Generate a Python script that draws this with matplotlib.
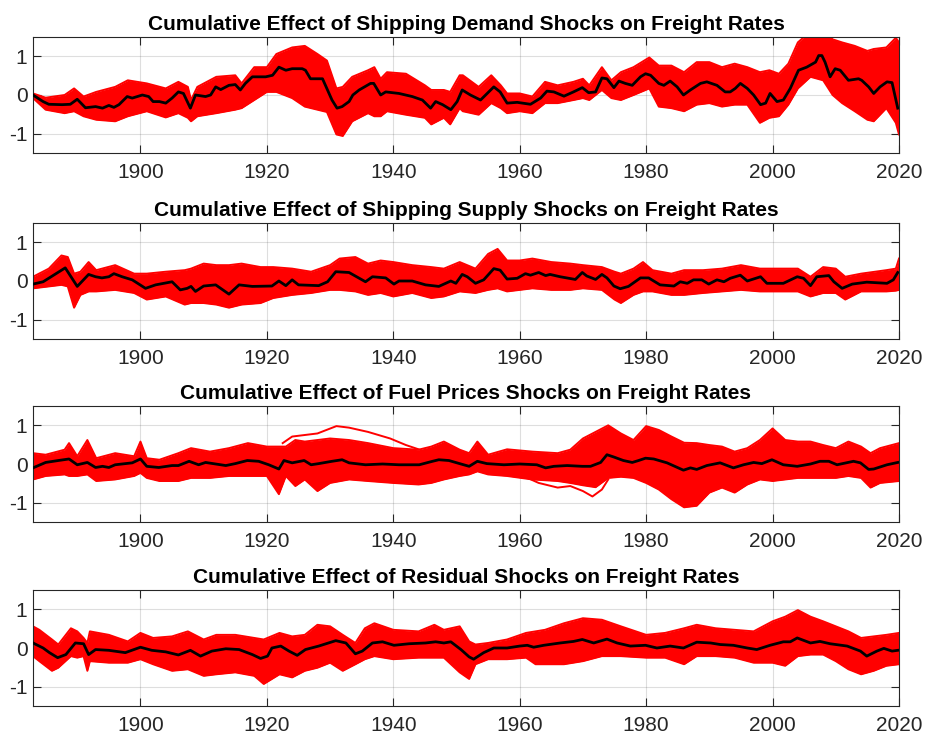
import matplotlib
matplotlib.use("Agg")
import matplotlib.pyplot as plt

plt.rcParams['font.family'] = ['Liberation Sans', 'DejaVu Sans']

titles = [
    "Cumulative Effect of Shipping Demand Shocks on Freight Rates",
    "Cumulative Effect of Shipping Supply Shocks on Freight Rates",
    "Cumulative Effect of Fuel Prices Shocks on Freight Rates",
    "Cumulative Effect of Residual Shocks on Freight Rates",
]
x_ticks = [1900, 1920, 1940, 1960, 1980, 2000, 2020]
y_ticks = [-1, 0, 1]

# ---------------- Panel 1: demand ----------------
demand_med_years = [1883, 1884.6, 1885.5, 1887.6, 1888.9, 1890, 1891.3, 1892.9, 1894, 1895, 1895.8, 1896.6,
                    1897.9, 1898.7, 1900.3, 1901.3, 1902, 1903, 1904, 1905, 1906, 1906.8, 1907.9, 1908.7,
                    1910.3, 1911.1, 1911.9, 1912.7, 1914, 1915, 1915.8, 1916.6, 1917.7, 1919.8, 1920.9,
                    1921.9, 1923, 1924, 1925.6, 1926.1, 1926.9, 1928.8, 1930.3, 1931.1, 1931.9, 1933,
                    1933.6, 1934.6, 1936.4, 1936.9, 1938, 1938.8, 1940.9, 1943, 1944.6, 1945.9, 1946.7,
                    1947.8, 1949.1, 1950.1, 1950.9, 1952.2, 1953.8, 1955.9, 1956.9, 1958, 1959.6, 1961.7,
                    1963.3, 1964.3, 1965.4, 1967, 1968.5, 1969.9, 1970.9, 1972, 1973, 1973.8, 1974.9,
                    1975.7, 1976.7, 1977.8, 1979.1, 1979.9, 1980.7, 1982, 1982.8, 1983.8, 1984.9, 1985.9,
                    1987, 1988.6, 1989.6, 1991.2, 1992.5, 1993.3, 1994.1, 1994.9, 1996, 1997, 1998.1,
                    1998.9, 1999.6, 2000.7, 2001.7, 2002.8, 2004.1, 2005.4, 2006.8, 2007.3, 2007.8, 2008.3,
                    2009.1, 2009.9, 2010.7, 2012, 2013.6, 2014.1, 2015.2, 2016, 2017, 2018.1, 2018.9, 2019.8]
demand_median = [0.00, -0.17, -0.24, -0.25, -0.24, -0.11, -0.33, -0.30, -0.34, -0.27, -0.32, -0.25,
                 -0.04, -0.08, 0.00, -0.04, -0.17, -0.17, -0.21, -0.08, 0.08, 0.04, -0.34, 0.00,
                 -0.04, 0.00, 0.21, 0.14, 0.25, 0.27, 0.13, 0.30, 0.47, 0.47, 0.51,
                 0.72, 0.64, 0.68, 0.68, 0.64, 0.42, 0.42, -0.13, -0.34, -0.30, -0.17,
                 0.00, 0.13, 0.30, 0.30, 0.00, 0.08, 0.04, -0.04, -0.13, -0.34, -0.17,
                 -0.25, -0.38, -0.17, 0.13, 0.00, -0.13, 0.21, 0.08, -0.21, -0.19, -0.24,
                 -0.08, 0.10, 0.08, -0.03, 0.08, 0.19, 0.06, 0.08, 0.44, 0.42, 0.19,
                 0.36, 0.30, 0.25, 0.47, 0.55, 0.51, 0.30, 0.25, 0.36, 0.21, 0.00,
                 0.13, 0.30, 0.34, 0.25, 0.08, 0.08, 0.17, 0.30, 0.17, 0.00, -0.25,
                 -0.21, 0.04, -0.17, -0.13, 0.17, 0.64, 0.72, 0.85, 1.02, 1.02, 0.85,
                 0.47, 0.68, 0.64, 0.38, 0.42, 0.38, 0.21, 0.04, 0.21, 0.34, 0.32, -0.34]
demand_band_years = [1883, 1885, 1888, 1889.5, 1891, 1893, 1896, 1898, 1901, 1904, 1906, 1907.5, 1908,
                     1909, 1912, 1915, 1916, 1918, 1920, 1921.5, 1924, 1926, 1928, 1929.5, 1931, 1932,
                     1933.5, 1936, 1937, 1938, 1939, 1942, 1945, 1946, 1948, 1949, 1950.5, 1951, 1953.5,
                     1955.5, 1957, 1958, 1960, 1962, 1964, 1966, 1968.5, 1970, 1971, 1973, 1974.5, 1976,
                     1978, 1980.5, 1982, 1984, 1986, 1988, 1990, 1992, 1994, 1996, 1998, 1999.5, 2001,
                     2002.5, 2004, 2006, 2008, 2009.5, 2011, 2013, 2015, 2016, 2018, 2019.5, 2020]
demand_upper = [0.04, -0.07, 0.00, 0.17, -0.04, 0.08, 0.21, 0.38, 0.30, 0.17, 0.34, 0.21, -0.13,
                0.21, 0.47, 0.51, 0.30, 0.72, 0.72, 1.06, 1.23, 1.27, 1.06, 0.89, 0.17, 0.21,
                0.47, 0.64, 0.72, 0.42, 0.59, 0.55, 0.25, 0.13, 0.13, 0.08, 0.51, 0.51, 0.21,
                0.51, 0.25, 0.04, 0.04, -0.04, 0.34, 0.25, 0.34, 0.42, 0.25, 0.72, 0.38, 0.59,
                0.72, 0.97, 0.76, 0.76, 0.59, 0.85, 0.85, 0.72, 0.81, 0.72, 0.59, 0.64, 0.55,
                0.81, 1.36, 1.65, 1.70, 1.44, 1.36, 1.27, 1.14, 1.19, 1.23, 1.48, 1.36]
demand_lower = [-0.08, -0.38, -0.47, -0.42, -0.55, -0.64, -0.68, -0.55, -0.42, -0.58, -0.47, -0.59, -0.68,
                -0.55, -0.47, -0.38, -0.34, -0.13, 0.08, 0.08, -0.08, -0.30, -0.38, -0.44, -1.02, -1.06,
                -0.68, -0.47, -0.55, -0.55, -0.42, -0.51, -0.59, -0.76, -0.59, -0.76, -0.34, -0.42, -0.51,
                -0.21, -0.34, -0.47, -0.42, -0.47, -0.21, -0.21, -0.13, -0.08, -0.13, 0.13, -0.08, -0.13,
                0.00, 0.17, -0.30, -0.34, -0.42, -0.25, -0.21, -0.30, -0.25, -0.25, -0.72, -0.59, -0.55,
                -0.25, 0.17, 0.47, 0.38, 0.00, -0.21, -0.42, -0.64, -0.68, -0.34, -0.72, -1.02]

# ---------------- Panel 2: supply ----------------
supply_med_years = [1883, 1884.6, 1888.1, 1890, 1891.8, 1892.9, 1893.9, 1895, 1895.8, 1897.1, 1898.7,
                    1900.8, 1902.4, 1905, 1906.3, 1907.4, 1908, 1908.7, 1910, 1911.9, 1914, 1915.6,
                    1917.7, 1920.8, 1921.9, 1923, 1924, 1925, 1928.2, 1929.6, 1930.9, 1933, 1935.6,
                    1936.7, 1938.8, 1940.1, 1940.9, 1943, 1945.1, 1947.2, 1949.1, 1949.9, 1950.9,
                    1951.7, 1953, 1954.3, 1955.9, 1956.9, 1958, 1959.6, 1960.9, 1961.7, 1963, 1964.1,
                    1964.8, 1966.4, 1968.8, 1969.9, 1970.6, 1972, 1973, 1973.8, 1974.9, 1975.9, 1977.2,
                    1979.1, 1980.4, 1982.2, 1984.4, 1985.4, 1986.5, 1987.5, 1988.8, 1989.9, 1991.2,
                    1992.3, 1993.3, 1994.9, 1996, 1998.1, 1999.1, 2001.7, 2003.9, 2004.9, 2006, 2007,
                    2008.9, 2009.7, 2011, 2012.6, 2014.9, 2018.1, 2019.1, 2019.8]
supply_median = [-0.08, -0.02, 0.34, -0.14, 0.17, 0.11, 0.08, 0.11, 0.19, 0.11, 0.03,
                 -0.19, -0.10, -0.02, -0.23, -0.19, -0.14, -0.27, -0.13, -0.10, -0.34, -0.10,
                 -0.14, -0.13, 0.00, -0.12, 0.03, -0.10, -0.12, -0.02, 0.24, 0.22, -0.02,
                 0.11, 0.08, -0.08, 0.00, 0.00, -0.10, -0.14, 0.00, -0.06, 0.17,
                 0.11, -0.06, 0.03, 0.32, 0.28, 0.05, 0.07, 0.19, 0.15, 0.22, 0.14,
                 0.17, 0.11, 0.04, 0.22, 0.13, 0.04, 0.17, 0.08, -0.13, -0.20, -0.14,
                 0.08, 0.08, -0.10, -0.13, -0.02, -0.06, 0.03, 0.03, -0.08, 0.03,
                 -0.02, 0.07, 0.15, 0.00, 0.11, -0.06, -0.06, 0.11, 0.07, -0.12, 0.11,
                 0.14, -0.02, -0.19, -0.08, -0.03, -0.06, 0.03, 0.22]
supply_band_years = [1883, 1885.5, 1887.5, 1888.5, 1889.5, 1890.5, 1891.8, 1893, 1896, 1899, 1901, 1904,
                     1907, 1908, 1910, 1912, 1914, 1916, 1919, 1921, 1924, 1927, 1930, 1931.5, 1934, 1936,
                     1938, 1940, 1943, 1946, 1948, 1950.5, 1953, 1955, 1956.5, 1958, 1960, 1962, 1965, 1968,
                     1970, 1973, 1975, 1976, 1978, 1979.5, 1981, 1984, 1986, 1989, 1992, 1995, 1998, 2001,
                     2004, 2006, 2008, 2010, 2011.5, 2014, 2018, 2019.5, 2020]
supply_upper = [0.11, 0.32, 0.66, 0.62, 0.19, 0.24, 0.49, 0.28, 0.41, 0.19, 0.19, 0.24,
                0.28, 0.32, 0.45, 0.41, 0.41, 0.45, 0.36, 0.36, 0.32, 0.24, 0.41, 0.58, 0.62, 0.45,
                0.53, 0.49, 0.41, 0.36, 0.32, 0.49, 0.32, 0.70, 0.83, 0.53, 0.53, 0.58, 0.49, 0.45,
                0.41, 0.36, 0.24, 0.19, 0.32, 0.49, 0.28, 0.19, 0.28, 0.28, 0.32, 0.41, 0.32, 0.32,
                0.32, 0.11, 0.36, 0.32, 0.11, 0.19, 0.28, 0.32, 0.58]
supply_lower = [-0.19, -0.14, -0.10, -0.14, -0.69, -0.36, -0.27, -0.27, -0.23, -0.31, -0.48, -0.40,
                -0.61, -0.57, -0.57, -0.61, -0.69, -0.61, -0.57, -0.44, -0.36, -0.31, -0.23, -0.23, -0.27, -0.36,
                -0.31, -0.40, -0.31, -0.44, -0.40, -0.27, -0.31, -0.23, -0.19, -0.27, -0.23, -0.19, -0.23, -0.23,
                -0.19, -0.23, -0.48, -0.57, -0.36, -0.27, -0.27, -0.36, -0.36, -0.31, -0.27, -0.23, -0.27, -0.27,
                -0.27, -0.40, -0.31, -0.31, -0.48, -0.27, -0.27, -0.25, -0.23]

# ---------------- Panel 3: fuel prices ----------------
fuel_med_years = [1883, 1885, 1887, 1888.7, 1890, 1891.6, 1892.9, 1894, 1895, 1896, 1898.7, 1900, 1901,
                  1902.9, 1905, 1906, 1907.7, 1909.2, 1910.3, 1913.5, 1915, 1916.9, 1918.7, 1920.3,
                  1921.9, 1922.7, 1924, 1925.9, 1927, 1928.2, 1930.3, 1931.9, 1933, 1935.6, 1938.3,
                  1940.9, 1944.1, 1946.2, 1947.2, 1948.8, 1950.7, 1952, 1953.3, 1954.8, 1957.5, 1960,
                  1962.7, 1964.1, 1965.4, 1967.5, 1969.9, 1971.2, 1972.8, 1973.8, 1974.9, 1976.4,
                  1977.8, 1978.8, 1979.9, 1981.2, 1983.3, 1985.9, 1987, 1988, 1989.6, 1991.7, 1993.8,
                  1995.4, 1997, 1998.3, 1999.9, 2001.7, 2003.9, 2006, 2007.5, 2008.9, 2010.2, 2012.8,
                  2013.9, 2015.2, 2016, 2018.1, 2019.8]
fuel_median = [-0.10, 0.04, 0.09, 0.13, -0.02, 0.04, -0.09, -0.06, -0.09, -0.02, 0.03, 0.13, -0.06,
               -0.09, -0.04, -0.04, 0.07, -0.02, 0.04, -0.04, 0.01, 0.09, 0.07, -0.02,
               -0.13, 0.09, 0.03, 0.09, -0.02, 0.01, 0.07, 0.11, 0.03, -0.02, 0.00,
               -0.02, -0.02, 0.07, 0.11, 0.09, 0.00, -0.06, 0.07, 0.01, -0.02, 0.00,
               -0.02, -0.10, -0.06, -0.04, -0.06, -0.06, 0.04, 0.24, 0.18, 0.09,
               0.04, 0.09, 0.15, 0.13, 0.03, -0.16, -0.10, -0.14, -0.04, 0.03, -0.10,
               -0.02, 0.04, 0.01, 0.11, -0.02, -0.06, 0.00, 0.07, 0.07, -0.02, 0.07,
               0.03, -0.14, -0.13, -0.02, 0.04]
fuel_band_years = [1883, 1885, 1888, 1888.7, 1890, 1891.6, 1893, 1896, 1899, 1900, 1901, 1903, 1906, 1908,
                   1911, 1914, 1917, 1920, 1921.9, 1923, 1924.5, 1926, 1928, 1930, 1933, 1936, 1940, 1944,
                   1946, 1948, 1950.5, 1952, 1953.3, 1955, 1958, 1962, 1966, 1968, 1970, 1972, 1974, 1976,
                   1978, 1980, 1982, 1984, 1986, 1988, 1990, 1992, 1994, 1996, 1998, 2000, 2002, 2004,
                   2006, 2008, 2010, 2012, 2014, 2015.5, 2017, 2020]
fuel_upper = [0.28, 0.24, 0.37, 0.54, 0.20, 0.62, 0.15, 0.28, 0.20, 0.58, 0.15, 0.11, 0.28, 0.41,
              0.32, 0.41, 0.54, 0.45, 0.45, 0.45, 0.62, 0.58, 0.62, 0.66, 0.62, 0.54, 0.41, 0.37,
              0.45, 0.58, 0.37, 0.28, 0.58, 0.24, 0.38, 0.32, 0.28, 0.37, 0.66, 0.83, 1.00, 0.79,
              0.62, 0.98, 0.88, 0.71, 0.55, 0.54, 0.49, 0.45, 0.32, 0.41, 0.62, 0.92, 0.62, 0.58,
              0.58, 0.49, 0.41, 0.58, 0.45, 0.28, 0.41, 0.54]
fuel_lower = [-0.40, -0.31, -0.27, -0.31, -0.31, -0.27, -0.44, -0.40, -0.31, -0.23, -0.36, -0.44, -0.44, -0.36,
              -0.36, -0.31, -0.31, -0.31, -0.78, -0.31, -0.57, -0.40, -0.70, -0.49, -0.40, -0.44, -0.49, -0.53,
              -0.49, -0.40, -0.31, -0.27, -0.19, -0.27, -0.31, -0.40, -0.44, -0.49, -0.55, -0.60, -0.36, -0.33,
              -0.36, -0.49, -0.66, -0.91, -1.12, -1.08, -0.74, -0.61, -0.74, -0.53, -0.40, -0.44, -0.40, -0.36,
              -0.36, -0.36, -0.36, -0.31, -0.36, -0.61, -0.49, -0.44]
fuel_out_hi_years = [1922.5, 1924, 1928, 1931, 1933, 1936, 1939.5, 1942, 1944]
fuel_out_hi = [0.54, 0.71, 0.79, 0.98, 0.94, 0.83, 0.66, 0.49, 0.38]
fuel_out_lo_years = [1960, 1963, 1966, 1968, 1970, 1971.5, 1973, 1974]
fuel_out_lo = [-0.27, -0.49, -0.61, -0.57, -0.70, -0.84, -0.66, -0.40]

# ---------------- Panel 4: residual ----------------
resid_med_years = [1883, 1884.6, 1885.6, 1886.9, 1888.2, 1889.7, 1891, 1891.8, 1892.9, 1895, 1897.6, 1900,
                   1901.8, 1904, 1906, 1907.9, 1909.5, 1911.3, 1913.5, 1915.6, 1917.7, 1919, 1920.1,
                   1920.8, 1922.2, 1923.5, 1924.8, 1926.1, 1928.2, 1930.9, 1932.5, 1934, 1935.1, 1936.7,
                   1938.3, 1940.1, 1942.5, 1945.1, 1946.7, 1948, 1949.1, 1950.7, 1952, 1952.7, 1954.3,
                   1955.9, 1958, 1960, 1961.2, 1962.2, 1963.8, 1966.4, 1968.5, 1969.9, 1971.7, 1973.8,
                   1975.4, 1977.5, 1979.9, 1981.7, 1983.8, 1985.9, 1988, 1990.2, 1991.7, 1993.8, 1996,
                   1997.5, 1999.6, 2001.7, 2002.8, 2003.9, 2006, 2007.5, 2009.1, 2011.8, 2013.9, 2014.9,
                   2016.5, 2017.6, 2018.9, 2019.8]
resid_median = [0.13, 0.00, -0.12, -0.25, -0.17, 0.13, 0.11, -0.17, -0.04, -0.06, -0.12, 0.02,
                -0.06, -0.10, -0.18, -0.06, -0.21, -0.08, -0.02, -0.04, -0.17, -0.27, -0.21,
                0.00, 0.05, -0.08, -0.19, -0.04, 0.05, 0.19, 0.13, -0.15, -0.08, 0.13,
                0.16, 0.07, 0.11, 0.13, 0.16, 0.13, 0.16, -0.04, -0.23, -0.29, -0.12,
                0.00, 0.00, 0.05, 0.07, 0.02, 0.07, 0.13, 0.17, 0.22, 0.13, 0.23,
                0.13, 0.05, 0.07, 0.00, 0.05, 0.00, 0.15, 0.13, 0.09, 0.07, 0.00,
                -0.04, 0.07, 0.16, 0.16, 0.26, 0.13, 0.17, 0.11, 0.05, -0.08, -0.21,
                -0.08, -0.01, -0.08, -0.06]
resid_band_years = [1883, 1884, 1886, 1887, 1889, 1890, 1891, 1891.6, 1892, 1895, 1898, 1900, 1902, 1905,
                    1907.5, 1910, 1912, 1915, 1918, 1919.5, 1922, 1924, 1926, 1928, 1930, 1932, 1934,
                    1935.5, 1937, 1940, 1944, 1946.5, 1948, 1950.5, 1952, 1953, 1955, 1958, 1961, 1962.5,
                    1964, 1967, 1970, 1973, 1976, 1980, 1983, 1986, 1988, 1991, 1994, 1997, 2000, 2002,
                    2004, 2006, 2008, 2010, 2012, 2014, 2016, 2018, 2020]
resid_upper = [0.56, 0.47, 0.22, 0.09, 0.51, 0.43, 0.26, 0.13, 0.43, 0.34, 0.17, 0.39, 0.26, 0.30,
               0.43, 0.22, 0.34, 0.34, 0.26, 0.22, 0.39, 0.30, 0.34, 0.60, 0.56, 0.34, 0.13,
               0.51, 0.64, 0.47, 0.43, 0.60, 0.47, 0.56, 0.17, 0.09, 0.13, 0.22, 0.39, 0.43,
               0.47, 0.64, 0.77, 0.73, 0.56, 0.34, 0.39, 0.51, 0.60, 0.51, 0.47, 0.43, 0.69, 0.81,
               0.98, 0.81, 0.69, 0.56, 0.43, 0.26, 0.30, 0.34, 0.39]
resid_lower = [-0.21, -0.34, -0.59, -0.51, -0.21, -0.25, -0.21, -0.59, -0.34, -0.38, -0.38, -0.29, -0.42, -0.59,
               -0.55, -0.72, -0.68, -0.63, -0.72, -0.93, -0.68, -0.76, -0.59, -0.51, -0.38, -0.59, -0.42,
               -0.29, -0.21, -0.29, -0.25, -0.25, -0.25, -0.63, -0.80, -0.42, -0.29, -0.29, -0.25, -0.42,
               -0.42, -0.42, -0.34, -0.21, -0.21, -0.25, -0.25, -0.42, -0.21, -0.21, -0.25, -0.38, -0.38, -0.46,
               -0.21, -0.17, -0.17, -0.34, -0.55, -0.68, -0.59, -0.46, -0.42]

panels = [
    (titles[0], demand_band_years, demand_upper, demand_lower, demand_med_years, demand_median, []),
    (titles[1], supply_band_years, supply_upper, supply_lower, supply_med_years, supply_median, []),
    (titles[2], fuel_band_years, fuel_upper, fuel_lower, fuel_med_years, fuel_median,
     [(fuel_out_hi_years, fuel_out_hi), (fuel_out_lo_years, fuel_out_lo)]),
    (titles[3], resid_band_years, resid_upper, resid_lower, resid_med_years, resid_median, []),
]

W, H = 925, 736
fig = plt.figure(figsize=(W / 100, H / 100), dpi=100)
ax_tops = [37, 223, 406, 590]
ax_h = 116
left, right = 33, 899
axis_col = '#262626'

for (title, by, bu, bl, my, mv, outs), top in zip(panels, ax_tops):
    ax = fig.add_axes([left / W, 1 - (top + ax_h) / H, (right - left) / W, ax_h / H])
    ax.fill_between(by, bl, bu, color='#ff0000', lw=0, zorder=2)
    ax.plot(by, bu, color='#ff0000', lw=1.4, zorder=2)
    ax.plot(by, bl, color='#ff0000', lw=1.4, zorder=2)
    for oy, ov in outs:
        ax.plot(oy, ov, color='#ff0000', lw=1.4, zorder=2)
    ax.plot(my, mv, color='black', lw=2.0, zorder=3)
    ax.set_xlim(1883, 2020)
    ax.set_ylim(-1.5, 1.5)
    ax.set_xticks(x_ticks)
    ax.set_yticks(y_ticks)
    ax.set_yticklabels(['-1', '0', '1'])
    ax.grid(True, color=axis_col, alpha=0.15, lw=0.8)
    ax.set_axisbelow(True)
    ax.tick_params(direction='in', length=5.5, width=0.8, colors=axis_col, labelsize=15,
                   top=True, right=True)
    ax.tick_params(axis='x', pad=7)
    ax.tick_params(axis='y', pad=4)
    for s in ax.spines.values():
        s.set_color(axis_col)
        s.set_linewidth(0.8)
    ax.set_title(title, fontsize=15, fontweight='bold', color='black', pad=5)

fig.savefig('out.png', dpi=100)
